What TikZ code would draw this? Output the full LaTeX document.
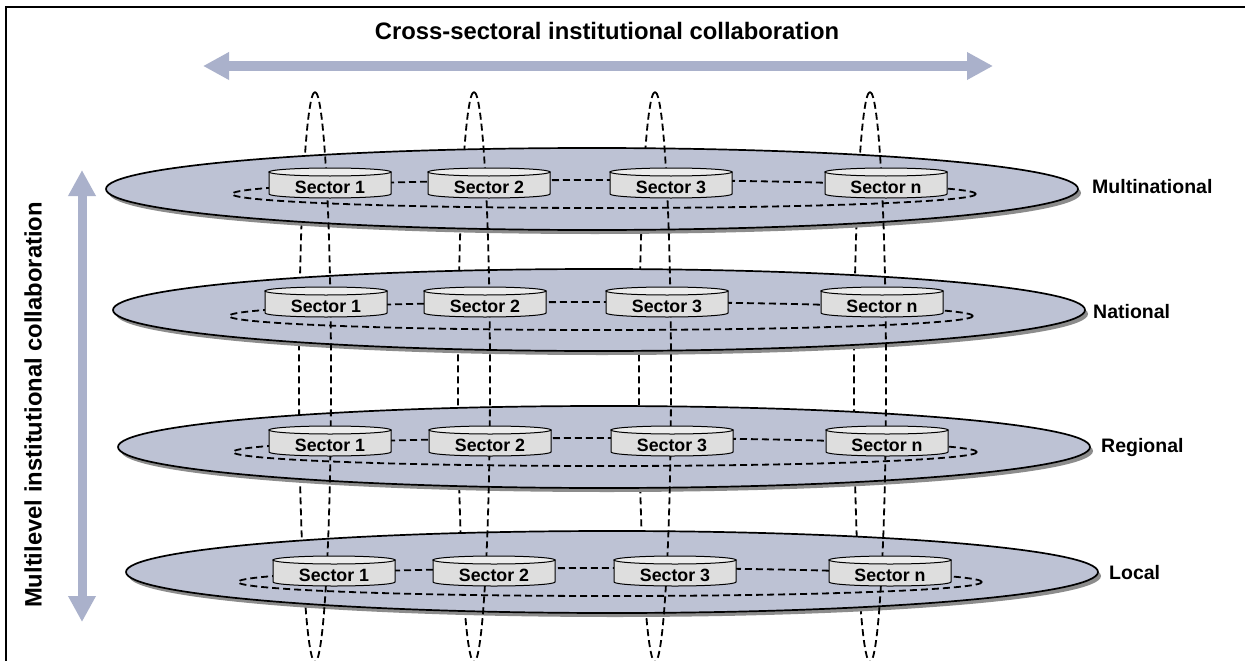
\documentclass[tikz,border=0pt]{standalone}
\usepackage{fontspec}
\setmainfont{Liberation Sans}
\usetikzlibrary{arrows.meta}
\definecolor{plate}{RGB}{189,194,212}
\definecolor{flow}{RGB}{170,177,203}
\definecolor{plateshadow}{RGB}{140,140,140}
\definecolor{cylside}{RGB}{222,222,222}
\definecolor{cyltop}{RGB}{236,236,236}

% cylinder drawn around a sector label centred at (#1,#2)
\newcommand\sectorcyl[2]{%
  \filldraw[fill=cylside, draw=black, line width=1pt]
    (#1-61,#2-15) -- (#1-61,#2+7)
    arc[start angle=180, end angle=360, x radius=61pt, y radius=4pt]
    -- (#1+61,#2-15) -- cycle;
  \filldraw[fill=cyltop, draw=black, line width=1pt]
    (#1,#2-15) ellipse[x radius=61pt, y radius=4pt];
}

\begin{document}
\begin{tikzpicture}[x=1pt, y=-1pt,
  loopline/.style={draw=black, line width=1.8pt, dash pattern=on 7pt off 4pt},
  ringline/.style={draw=black, line width=1.8pt, dash pattern=on 7pt off 4pt},
  flowarrow/.style={draw=flow, line width=10pt,
    arrows={Triangle[length=26pt,width=26pt]-Triangle[length=26pt,width=26pt]}},
  sectorlabel/.style={font=\bfseries\fontsize{17.8}{20}\selectfont, inner sep=0pt},
  levellabel/.style={font=\bfseries\fontsize{19.5}{22}\selectfont, inner sep=0pt, anchor=west},
  biglabel/.style={font=\bfseries\fontsize{23.8}{28}\selectfont, inner sep=0pt}]

\useasboundingbox (0,0) rectangle (1245,661);
\clip (0,0) rectangle (1245,661);
\fill[white] (0,0) rectangle (1245,661);

% outer frame
\draw[line width=2pt] (6,700) -- (6,7) -- (1280,7);

% headings and collaboration arrows
\node[biglabel] (title) at (607,31) {Cross-sectoral institutional collaboration};
\node[biglabel, rotate=90] (vlab) at (33,405) {Multilevel institutional collaboration};
\coordinate (hl) at (203,66);
\coordinate (hr) at (993,66);
\draw[flowarrow] (hl) -- (hr);
\coordinate (vt) at (82,170);
\coordinate (vb) at (82,622);
\draw[flowarrow, line width=9pt] (vt) -- (vb);

% back halves of the vertical loops
\foreach \cx in {315,474,655,870}
  \draw[loopline] (\cx,92) arc[start angle=90, end angle=270, x radius=16pt, y radius=285pt];

% level plates
\foreach \cx/\cy in {592/189, 599/310, 604/447, 612/572}{
  \fill[plateshadow] (\cx+3,\cy+4) ellipse[x radius=486pt, y radius=41pt];
  \filldraw[fill=plate, draw=black, line width=1.7pt] (\cx,\cy) ellipse[x radius=486pt, y radius=41pt];
}

% rings linking the sectors of a level
\foreach \cx/\cy in {604/194, 601/316, 605/452, 610/582}
  \draw[ringline] (\cx,\cy) ellipse[x radius=372pt, y radius=14pt];

% front halves of the vertical loops
\foreach \cx in {315,474,655,870}
  \draw[loopline] (\cx,92) arc[start angle=90, end angle=-90, x radius=16pt, y radius=285pt];

% sectors
\foreach \lv/\yy/\xa/\xb/\xc/\xd in {1/187/330/489/671/886, 2/306/326/485/667/882, 3/445/330/490/672/887, 4/575/334/494/675/890}{
  \sectorcyl{\xa}{\yy}
  \sectorcyl{\xb}{\yy}
  \sectorcyl{\xc}{\yy}
  \sectorcyl{\xd}{\yy}
  \node[sectorlabel] (s\lv a) at (\xa,\yy) {Sector 1};
  \node[sectorlabel] (s\lv b) at (\xb,\yy) {Sector 2};
  \node[sectorlabel] (s\lv c) at (\xc,\yy) {Sector 3};
  \node[sectorlabel] (s\lv d) at (\xd,\yy) {Sector n};
}

% level names
\node[levellabel] (lmulti) at (1092,187) {Multinational};
\node[levellabel] (lnat) at (1093,312) {National};
\node[levellabel] (lreg) at (1101,447) {Regional};
\node[levellabel] (lloc) at (1109,573) {Local};
\end{tikzpicture}
\end{document}
